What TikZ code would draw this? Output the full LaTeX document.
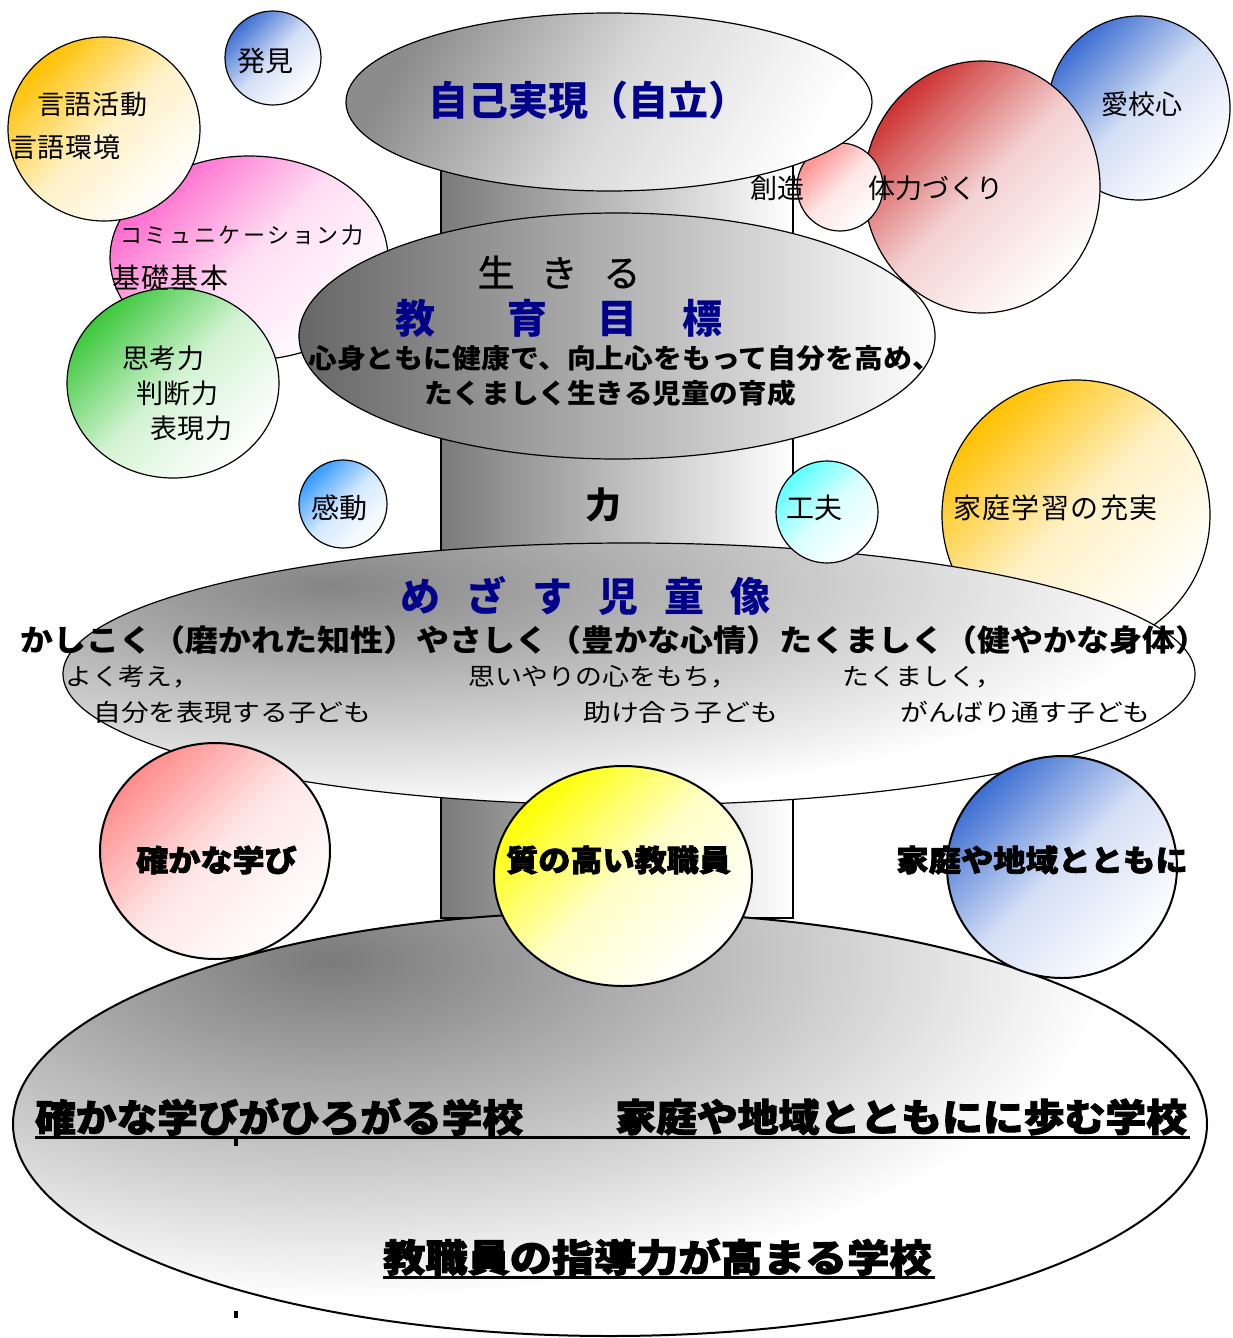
\documentclass[tikz,border=0pt]{standalone}
\usepackage{fontspec}
\usepackage{graphicx}
\setmainfont{Noto Sans CJK JP}
\newfontfamily\heavyjp[FakeBold=2.4]{Noto Sans CJK JP}
\newfontfamily\medjp[FakeBold=0.9]{Noto Sans CJK JP}
\definecolor{navyc}{RGB}{0,0,139}
\definecolor{cblue}{RGB}{60,110,210}
\definecolor{cgold}{RGB}{255,192,0}
\definecolor{cpink}{RGB}{255,102,204}
\definecolor{cgreen}{RGB}{60,200,60}
\definecolor{cdodger}{RGB}{51,153,255}
\definecolor{ccyan}{RGB}{90,255,255}
\definecolor{csalmon}{RGB}{255,140,140}
\definecolor{cred}{RGB}{205,50,50}
\definecolor{cyel}{RGB}{255,255,0}
\tikzset{
  bub/.style={draw=black, line width=1.2pt, top color=#1, bottom color=white, middle color=#1!22!white, shading angle=45},
  bigbub/.style={bub=#1, line width=2pt},
  lbl/.style={anchor=west, inner sep=0pt, font=\fontsize{27}{30}\selectfont},
  bold/.style={inner sep=0pt, font=\bfseries\fontsize{27}{30}\selectfont},
  navytxt/.style={inner sep=0pt, anchor=west, text=navyc, font=\bfseries\fontsize{40}{44}\selectfont},
  heavy/.style={inner sep=0pt, anchor=west, font=\heavyjp\bfseries\fontsize{30}{34}\selectfont},
  heavybig/.style={inner sep=0pt, anchor=west, font=\heavyjp\bfseries\fontsize{38}{42}\selectfont},
  subtxt/.style={inner sep=0pt, anchor=west, font=\fontsize{24}{28}\selectfont},
  glow/.style={inner color=black!#1, outer color=white},
}
\begin{document}
\begin{tikzpicture}[x=1pt,y=-1pt]
\useasboundingbox (0,0) rectangle (1232,1338);
% pillar
\path[draw=black, line width=1.2pt, left color=black!52, right color=white] (441,165) rectangle (793,918);
% right upper bubbles
\path[bub=cblue] (1139,108) ellipse (91 and 92);
\path[bub=cred] (982,187) ellipse (118 and 126);
\path[bub=csalmon] (840,187) ellipse (43 and 44);
% top ellipse
\path[draw=black, line width=1.2pt, top color=black!45, bottom color=white, middle color=black!15, shading angle=60] (609,102) ellipse (263 and 89);
% left bubbles
\path[bub=cpink] (249,258) ellipse (139 and 102);
\path[bub=cgold] (104,129) ellipse (96 and 92);
\path[bub=cgreen] (173,383) ellipse (106 and 95);
\path[bub=cblue] (273,58) ellipse (48 and 47);
% middle ellipse
\path[draw=black, line width=1.2pt, left color=black!60, right color=white] (617,336) ellipse (318 and 123);
% home learning bubble
\path[bub=cgold] (1076,515) ellipse (134 and 135);
% mezasu ellipse
\begin{scope}
  \clip (629,674) ellipse (566 and 131);
  \fill[white] (629,674) ellipse (566 and 131);
  \shade[glow=48] (330,585) ellipse (850 and 230);
\end{scope}
\draw[line width=1.2pt] (629,674) ellipse (566 and 131);
\path[bub=cdodger] (343,504) ellipse (44 and 44);
\path[bub=ccyan] (827,512) ellipse (51 and 51);
% bottom ellipse
\begin{scope}
  \clip (610,1124) ellipse (597 and 212);
  \fill[white] (610,1124) ellipse (597 and 212);
  \shade[glow=52] (330,960) ellipse (780 and 340);
\end{scope}
\draw[line width=2pt] (610,1124) ellipse (597 and 212);
% bottom bubbles
\path[bigbub=csalmon] (215,851) ellipse (115 and 108);
\path[bigbub=cyel] (623,876) ellipse (129 and 110);
\path[bigbub=cblue] (1062,867) ellipse (115 and 111);

% texts
\node[navytxt] (jiko) at (428,100) {自己実現（自立）};
\node[lbl] (sozo) at (750,188) {創造};
\node[lbl] (tairyoku) at (868,188) {体力づくり};
\node[lbl] (aiko) at (1101,104) {愛校心};
\node[lbl, font=\fontsize{28}{30}\selectfont] (hakken) at (237,61) {発見};
\node[lbl, font=\fontsize{27}{30}\selectfont\addfontfeature{LetterSpace=3}] (gengo1) at (37,104) {言語活動};
\node[lbl, font=\fontsize{27}{30}\selectfont\addfontfeature{LetterSpace=3}] (gengo2) at (10,147) {言語環境};
\node[lbl, font=\fontsize{22}{26}\selectfont\addfontfeature{LetterSpace=12}] (comm) at (120,235) {コミュニケーション力};
\node[lbl, font=\fontsize{28}{30}\selectfont\addfontfeature{LetterSpace=5}] (kiso) at (112,278) {基礎基本};
\node[lbl, font=\fontsize{27}{30}\selectfont\addfontfeature{LetterSpace=3}] (shiko) at (122,358) {思考力};
\node[lbl, font=\fontsize{27}{30}\selectfont\addfontfeature{LetterSpace=3}] (handan) at (136,393) {判断力};
\node[lbl, font=\fontsize{27}{30}\selectfont\addfontfeature{LetterSpace=3}] (hyogen) at (150,428) {表現力};
\node[inner sep=0pt, font=\medjp\fontsize{37}{40}\selectfont] (ikiru) at (559,272) {生\hspace{26pt}き\hspace{26pt}る};
\node[navytxt] (mokuhyo) at (395,318) {教\hspace{72pt}育\hspace{50pt}目\hspace{45pt}標};
\node[bold, anchor=west] (goal1) at (308,358) {\scalebox{1.07}[1]{心身ともに健康で、向上心をもって自分を高め、}};
\node[bold] (goal2) at (610,393) {\scalebox{1.06}[1]{たくましく生きる児童の育成}};
\node[inner sep=0pt, font=\bfseries\fontsize{36}{40}\selectfont] (chikara) at (603,505) {力};
\node[lbl, font=\fontsize{28}{30}\selectfont] (kando) at (311,508) {感動};
\node[lbl, font=\fontsize{28}{30}\selectfont] (kufu) at (786,508) {工夫};
\node[lbl, font=\fontsize{28}{30}\selectfont\addfontfeature{LetterSpace=5}] (katei) at (953,508) {家庭学習の充実};
\node[navytxt] (mezasu) at (400,596) {め\hspace{26pt}ざ\hspace{26pt}す\hspace{26pt}児\hspace{26pt}童\hspace{26pt}像};
\node[bold, anchor=west, font=\bfseries\fontsize{30}{34}\selectfont] (three) at (20,640) {\scalebox{1.1}[1]{かしこく（磨かれた知性）やさしく（豊かな心情）たくましく（健やかな身体）}};
\node[subtxt] (s1) at (65,677) {\scalebox{1.12}[1]{よく考え，}};
\node[subtxt] (s2) at (468,677) {\scalebox{1.12}[1]{思いやりの心をもち，}};
\node[subtxt] (s3) at (842,677) {\scalebox{1.12}[1]{たくましく，}};
\node[subtxt] (s4) at (93,712) {\scalebox{1.16}[1]{自分を表現する子ども}};
\node[subtxt] (s5) at (583,712) {\scalebox{1.16}[1]{助け合う子ども}};
\node[subtxt] (s6) at (900,712) {\scalebox{1.16}[1]{がんばり通す子ども}};
\node[heavy] (tashika) at (136,860) {\scalebox{1.07}[1]{確かな学び}};
\node[heavy] (shitsu) at (506,860) {\scalebox{1.07}[1]{質の高い教職員}};
\node[heavy] (chiiki) at (896,860) {\scalebox{1.08}[1]{家庭や地域とともに}};
\node[heavybig] (school1) at (35,1117) {\scalebox{1.07}[1]{確かな学びがひろがる学校}};
\node[heavybig] (school2) at (615,1117) {\scalebox{1.075}[1]{家庭や地域とともにに歩む学校}};
\node[heavybig] (school3) at (383,1257) {\scalebox{1.11}[1]{教職員の指導力が高まる学校}};
\coordinate (u1a) at (35,1137);
\coordinate (u1b) at (1190,1137);
\coordinate (u2a) at (383,1277);
\coordinate (u2b) at (935,1277);
\draw[line width=3pt] (u1a) -- (u1b);
\draw[line width=3pt] (u2a) -- (u2b);
\fill[black] (234,1139) rectangle (238,1146);
\fill[black] (234,1311) rectangle (238,1318);
\end{tikzpicture}
\end{document}
